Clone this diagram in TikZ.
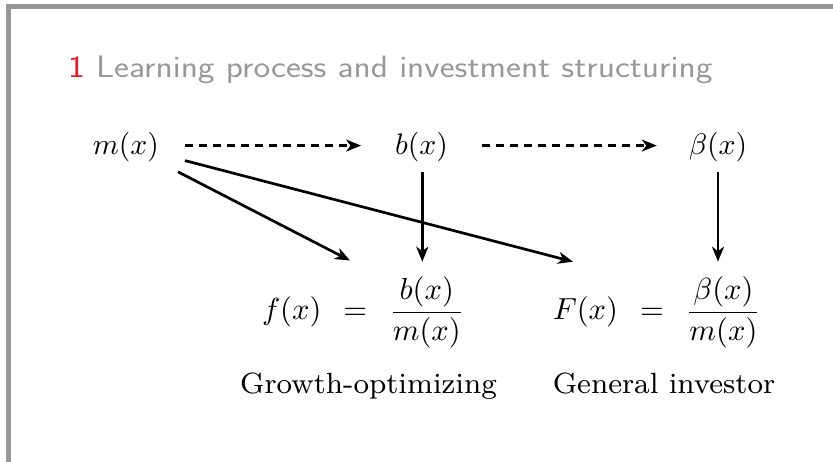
\documentclass[tikz,border=0pt]{standalone}
\usepackage{amsmath}
\usepackage{graphicx}
\usetikzlibrary{arrows.meta}
\definecolor{framegray}{RGB}{150,150,154}
\definecolor{titlegray}{RGB}{152,152,156}
\definecolor{titlered}{RGB}{232,28,36}
\newcommand{\mymath}[1]{\scalebox{2.97}{$#1$}}
\newcommand{\myformula}[1]{\scalebox{3.05}{$#1$}}
\newcommand{\mytext}[1]{\scalebox{3.66}{\fontsize{8}{9.6}\selectfont #1}}
\begin{document}
\begin{tikzpicture}[x=1pt,y=-1pt,
  mathnode/.style={inner sep=0pt, outer sep=0pt},
  solidarrow/.style={line width=2.7pt, -{Stealth[length=15pt,width=12pt,inset=4.5pt]}},
  dasharrow/.style={line width=2.7pt, dash pattern=on 8.5pt off 5.5pt, -{Stealth[length=15pt,width=12pt,inset=4.5pt]}}]
\useasboundingbox (0,0) rectangle (833,462);
% frame
\fill[framegray] (6,4) rectangle (833,9);
\fill[framegray] (6,4) rectangle (11,462);
% title
\node[anchor=base west, inner sep=0pt] (title) at (68,78)
  {\scalebox{1.148}[1]{\fontsize{31}{37}\selectfont\sffamily\textcolor{titlered}{1} \textcolor{titlegray}{Learning process and investment structuring}}};
% top row
\node[mathnode, anchor=base] (m) at (125.9,155) {\mymath{m(x)}};
\node[mathnode, anchor=base] (b) at (421.5,155) {\mymath{b(x)}};
\node[mathnode, anchor=base] (beta) at (718,155) {\mymath{\beta(x)}};
% formulas
\node[mathnode, anchor=base west] (f) at (262,320) {\myformula{f(x)\;\,=\;\,\dfrac{b(x)}{m(x)}}};
\node[mathnode, anchor=base west] (F) at (553,320) {\myformula{F(x)\;\,=\;\,\dfrac{\beta(x)}{m(x)}}};
% labels
\node[mathnode, anchor=base] (g) at (368.5,393) {\mytext{Growth-optimizing}};
\node[mathnode, anchor=base] (gi) at (664,393) {\mytext{General investor}};
% arrow tips
\coordinate (tipmf) at (350,260.5);
\coordinate (tipmF) at (573,261.7);
\coordinate (tipbf) at (422.3,261.7);
\coordinate (tipbF) at (718,261.7);
% connectors
\draw[dasharrow] ([xshift=26pt,yshift=2pt]m.east) -- ([xshift=-34pt,yshift=2pt]b.west);
\draw[dasharrow] ([xshift=34pt,yshift=2pt]b.east) -- ([xshift=-32pt,yshift=2pt]beta.west);
\draw[solidarrow] ([xshift=19pt,yshift=-9.4pt]m.south east) -- (tipmf);
\draw[solidarrow] ([xshift=26pt,yshift=-13pt]m.east) -- (tipmF);
\draw[solidarrow] ([xshift=0.8pt,yshift=-9.7pt]b.south) -- (tipbf);
\draw[solidarrow] ([yshift=-9.7pt]beta.south) -- (tipbF);
\end{tikzpicture}
\end{document}
